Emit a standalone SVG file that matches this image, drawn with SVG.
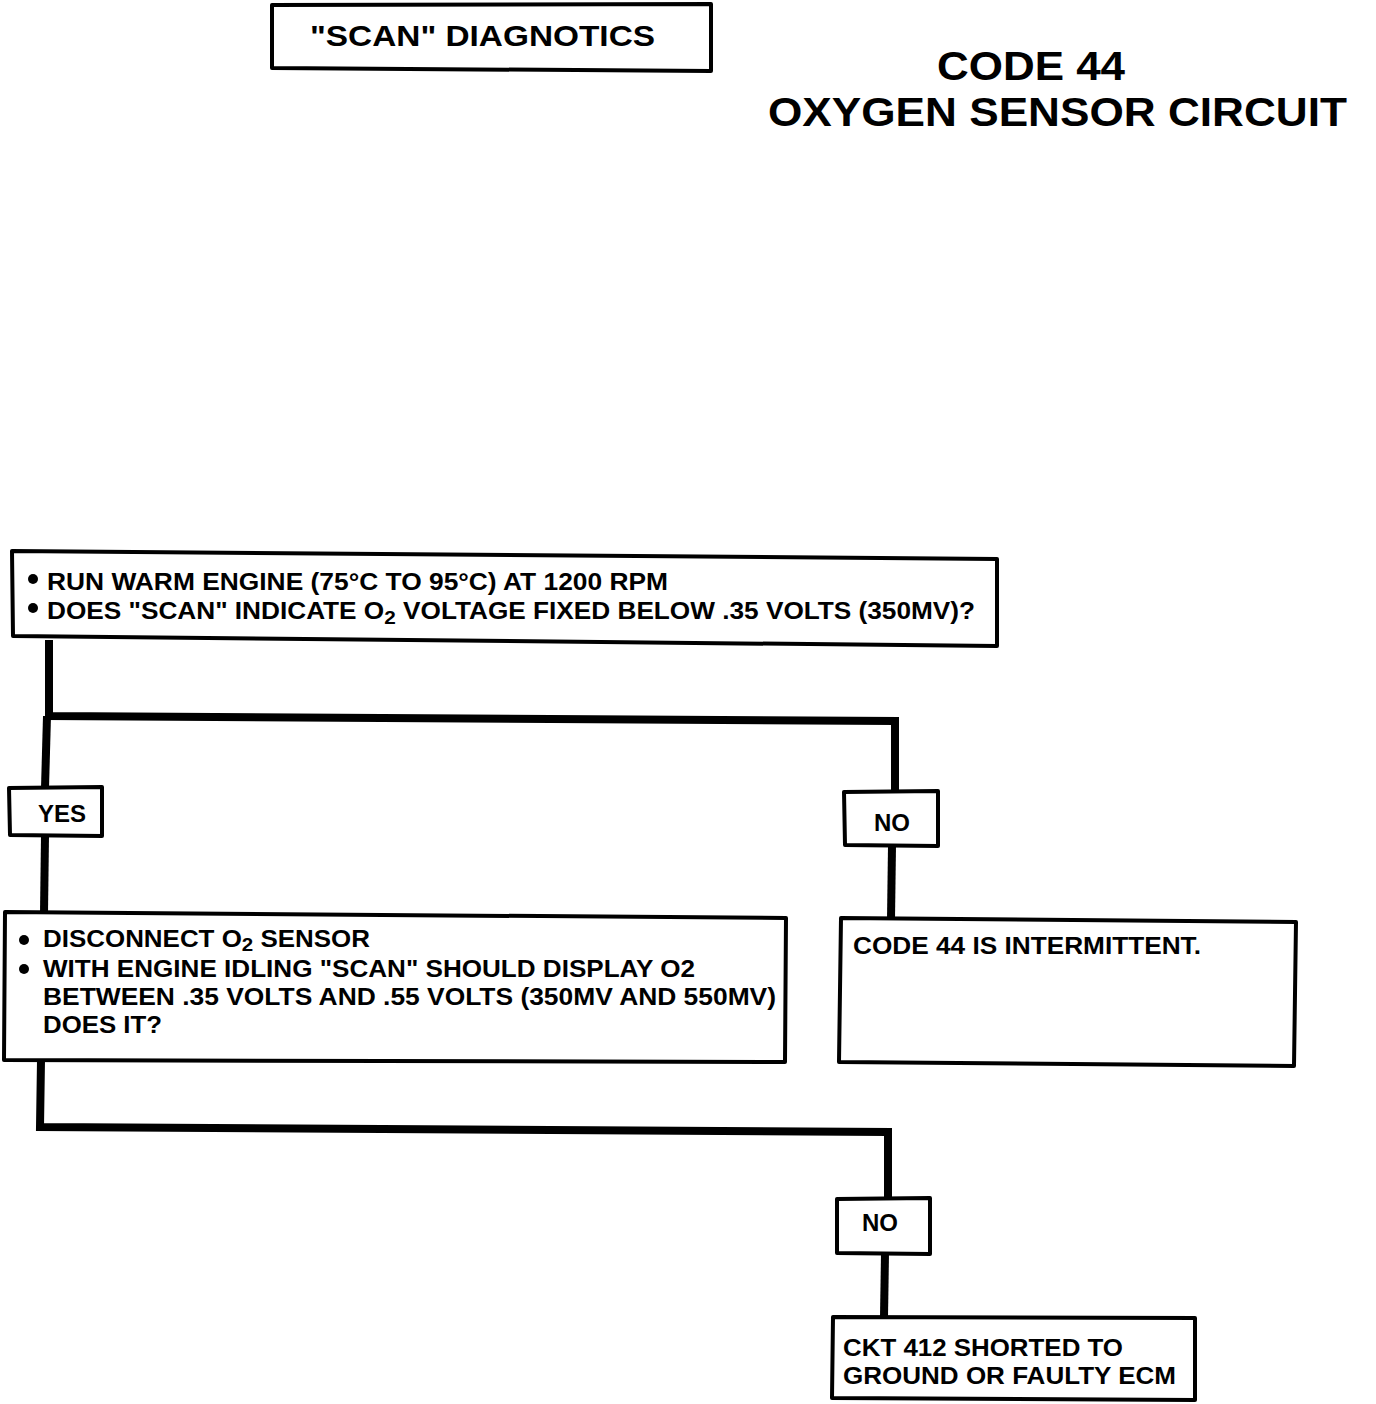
<svg xmlns="http://www.w3.org/2000/svg" width="1376" height="1404" viewBox="0 0 1376 1404">
<style>
.box{fill:#fff;stroke:#000;stroke-width:4;stroke-linejoin:round}
.con{fill:none;stroke:#000;stroke-width:8;stroke-linejoin:miter}
.t{font-family:"Liberation Sans",Arial,sans-serif;font-weight:bold;fill:#000}
.n{font-size:24px}
.sub{font-size:19px}
</style>
<rect width="1376" height="1404" fill="#fff"/>
<g id="connectors">
<polyline class="con" points="49,640 49,716 895,721 895,792"/>
<line class="con" x1="47" y1="716" x2="45" y2="788"/>
<line class="con" x1="45" y1="836" x2="44" y2="913"/>
<line class="con" x1="892" y1="846" x2="891" y2="919"/>
<polyline class="con" points="41,1060 40,1127 888,1132 888,1199"/>
<line class="con" x1="885" y1="1254" x2="884" y2="1317"/>
</g>
<g id="scan-header">
<polygon class="box" points="272,5 711,4 711,71 272,68"/>
<text class="t" x="310" y="46" font-size="30" textLength="345" lengthAdjust="spacingAndGlyphs">"SCAN" DIAGNOTICS</text>
</g>
<g id="title">
<text class="t" x="937" y="80" font-size="40" textLength="188" lengthAdjust="spacingAndGlyphs">CODE 44</text>
<text class="t" x="768" y="126" font-size="40" textLength="579" lengthAdjust="spacingAndGlyphs">OXYGEN SENSOR CIRCUIT</text>
</g>
<g id="box1">
<polygon class="box" points="12,551 997,559 997,646 13,636"/>
<circle cx="33" cy="579" r="5"/>
<circle cx="33" cy="608" r="5"/>
<text class="t n" x="47" y="590" textLength="621" lengthAdjust="spacingAndGlyphs">RUN WARM ENGINE (75°C TO 95°C) AT 1200 RPM</text>
<text class="t n" x="47" y="619" textLength="928" lengthAdjust="spacingAndGlyphs">DOES "SCAN" INDICATE O<tspan class="sub" dy="5">2</tspan><tspan dy="-5"> VOLTAGE FIXED BELOW .35 VOLTS (350MV)?</tspan></text>
</g>
<g id="yes1">
<polygon class="box" points="9,788 102,787 102,836 10,835"/>
<text class="t n" x="62" y="822" text-anchor="middle">YES</text>
</g>
<g id="no1">
<polygon class="box" points="844,792 938,791 938,846 845,845"/>
<text class="t n" x="892" y="831" text-anchor="middle">NO</text>
</g>
<g id="box2">
<polygon class="box" points="5,912 786,918 785,1062 4,1060"/>
<circle cx="24" cy="940" r="5"/>
<circle cx="24" cy="969" r="5"/>
<text class="t n" x="43" y="947" textLength="327" lengthAdjust="spacingAndGlyphs">DISCONNECT O<tspan class="sub" dy="4">2</tspan><tspan dy="-4"> SENSOR</tspan></text>
<text class="t n" x="43" y="977" textLength="652" lengthAdjust="spacingAndGlyphs">WITH ENGINE IDLING "SCAN" SHOULD DISPLAY O2</text>
<text class="t n" x="43" y="1005" textLength="733" lengthAdjust="spacingAndGlyphs">BETWEEN .35 VOLTS AND .55 VOLTS (350MV AND 550MV)</text>
<text class="t n" x="43" y="1033" textLength="119" lengthAdjust="spacingAndGlyphs">DOES IT?</text>
</g>
<g id="box3">
<polygon class="box" points="841,918 1296,922 1294,1066 839,1062"/>
<text class="t n" x="853" y="954" textLength="348" lengthAdjust="spacingAndGlyphs">CODE 44 IS INTERMITTENT.</text>
</g>
<g id="no2">
<polygon class="box" points="837,1199 930,1198 930,1254 837,1253"/>
<text class="t n" x="880" y="1231" text-anchor="middle">NO</text>
</g>
<g id="box4">
<polygon class="box" points="833,1317 1195,1318 1195,1400 832,1398"/>
<text class="t n" x="843" y="1356" textLength="280" lengthAdjust="spacingAndGlyphs">CKT 412 SHORTED TO</text>
<text class="t n" x="843" y="1384" textLength="333" lengthAdjust="spacingAndGlyphs">GROUND OR FAULTY ECM</text>
</g>
</svg>
